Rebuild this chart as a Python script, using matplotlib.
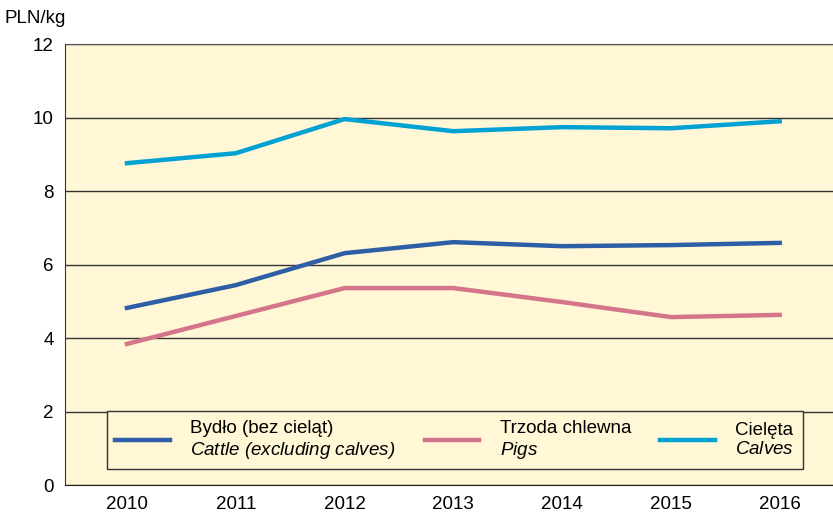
import matplotlib.pyplot as plt

plt.rcParams['font.family'] = ['Liberation Sans', 'DejaVu Sans']
plt.rcParams['mathtext.fontset'] = 'custom'
plt.rcParams['mathtext.it'] = 'Liberation Sans:italic'
plt.rcParams['mathtext.rm'] = 'Liberation Sans:italic'

years = [2010, 2011, 2012, 2013, 2014, 2015, 2016]
cattle = [4.82, 5.44, 6.31, 6.61, 6.50, 6.53, 6.59]
pigs = [3.84, 4.60, 5.36, 5.36, 4.98, 4.57, 4.63]
calves = [8.76, 9.03, 9.96, 9.63, 9.74, 9.71, 9.90]

fig = plt.figure(figsize=(8.33, 5.19), dpi=100)
ax = fig.add_axes([0.078, 0.0655, 0.922, 0.8495])
ax.set_facecolor('#fff7d6')

ax.plot(years, cattle, color='#2e5ea5', lw=3.2,
        label='Bydło (bez cieląt)\n$\\it{Cattle\\ (excluding\\ calves)}$')
ax.plot(years, pigs, color='#d5758b', lw=3.2,
        label='Trzoda chlewna\n$\\it{Pigs}$')
ax.plot(years, calves, color='#00a2d4', lw=3.2,
        label='Cielęta\n$\\it{Calves}$')

ax.set_xlim(2009.43, 2016.49)
ax.set_ylim(0, 12)
ax.set_yticks(range(0, 13, 2))
ax.set_xticks(years)
ax.tick_params(length=0, labelsize=13.5, pad=8)
ax.yaxis.grid(True, color='#333333', lw=1)
ax.set_axisbelow(True)
ax.spines['right'].set_visible(False)
ax.spines['top'].set_color('#555555')
ax.spines['left'].set_color('#333333')
ax.spines['bottom'].set_color('#222222')

leg = ax.legend(ncol=3, loc='lower left', bbox_to_anchor=(0.0547, 0.036, 0.906, 0.1315),
                mode='expand', fontsize=13.5, handlelength=2.9, handletextpad=1.1,
                frameon=True, fancybox=False, borderaxespad=0, borderpad=0.45,
                labelspacing=0.2)
leg.get_frame().set_facecolor('#fff7d6')
leg.get_frame().set_edgecolor('#333333')
leg.get_frame().set_alpha(1)

fig.text(0.006, 0.955, 'PLN/kg', fontsize=13.5)

fig.savefig('out.png')
